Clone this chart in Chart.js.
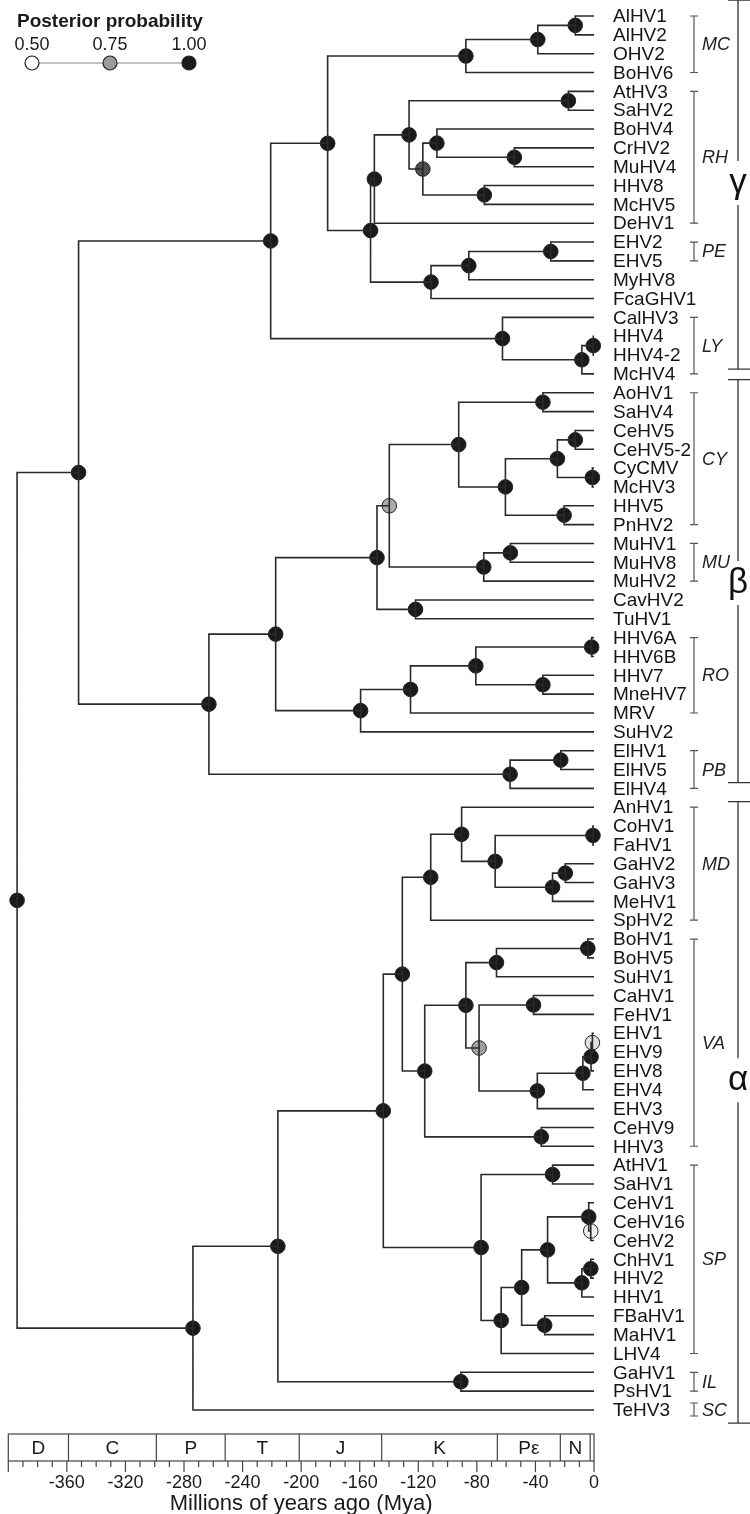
<!DOCTYPE html>
<html>
<head>
<meta charset="utf-8">
<script src="https://cdn.jsdelivr.net/npm/chart.js@4.4.0/dist/chart.umd.min.js"></script>
<style>
  body { margin: 0; background: #fff; }
  #wrap { width: 750px; height: 1514px; position: relative; }
</style>
</head>
<body>
<div id="wrap"><canvas id="tree"></canvas></div>
<script>
// tips, top to bottom
const leafNames = ['AlHV1','AlHV2','OHV2','BoHV6','AtHV3','SaHV2','BoHV4','CrHV2','MuHV4','HHV8','McHV5','DeHV1',
  'EHV2','EHV5','MyHV8','FcaGHV1','CalHV3','HHV4','HHV4-2','McHV4','AoHV1','SaHV4','CeHV5','CeHV5-2','CyCMV',
  'McHV3','HHV5','PnHV2','MuHV1','MuHV8','MuHV2','CavHV2','TuHV1','HHV6A','HHV6B','HHV7','MneHV7','MRV','SuHV2',
  'ElHV1','ElHV5','ElHV4','AnHV1','CoHV1','FaHV1','GaHV2','GaHV3','MeHV1','SpHV2','BoHV1','BoHV5','SuHV1',
  'CaHV1','FeHV1','EHV1','EHV9','EHV8','EHV4','EHV3','CeHV9','HHV3','AtHV1','SaHV1','CeHV1','CeHV16','CeHV2',
  'ChHV1','HHV2','HHV1','FBaHV1','MaHV1','LHV4','GaHV1','PsHV1','TeHV3'];

// internal nodes: id, child 1, child 2, age (Mya), posterior probability
const nodes = [
  ['m1','AlHV1','AlHV2',-12.8,1], ['m2','m1','OHV2',-38.4,1], ['m3','m2','BoHV6',-87.5,1],
  ['r1','AtHV3','SaHV2',-17.5,1], ['r2','CrHV2','MuHV4',-54.4,1], ['r3','BoHV4','r2',-107.3,1],
  ['r4','HHV8','McHV5',-74.9,1], ['r5','r3','r4',-116.9,0.9], ['r6','r1','r5',-126.3,1], ['r7','r6','DeHV1',-150,1],
  ['p1','EHV2','EHV5',-29.5,1], ['p2','p1','MyHV8',-85.5,1], ['p3','p2','FcaGHV1',-111.3,1],
  ['g1','r7','p3',-152.6,1], ['g2','m3','g1',-181.9,1],
  ['l1','HHV4','HHV4-2',-0.5,1], ['l2','l1','McHV4',-8.3,1], ['l3','CalHV3','l2',-62.5,1],
  ['gam','g2','l3',-220.8,1],
  ['c1','AoHV1','SaHV4',-34.9,1], ['c2','CeHV5','CeHV5-2',-12.8,1], ['c3','CyCMV','McHV3',-1.1,1],
  ['c4','c2','c3',-25,1], ['c5','HHV5','PnHV2',-20.4,1], ['c6','c4','c5',-60.5,1], ['c7','c1','c6',-92.4,1],
  ['u1','MuHV1','MuHV8',-57.1,1], ['u2','u1','MuHV2',-75.3,1],
  ['b1','c7','u2',-139.8,0.71], ['b2','CavHV2','TuHV1',-121.9,1], ['b3','b1','b2',-148.2,1],
  ['o1','HHV6A','HHV6B',-1.6,1], ['o2','HHV7','MneHV7',-34.9,1], ['o3','o1','o2',-80.7,1],
  ['o4','o3','MRV',-125.3,1], ['o5','o4','SuHV2',-159.4,1], ['b4','b3','o5',-217.4,1],
  ['e1','ElHV1','ElHV5',-22.7,1], ['e2','e1','ElHV4',-57.3,1], ['bet','b4','e2',-263,1],
  ['gb','gam','bet',-352,1],
  ['d1','CoHV1','FaHV1',-0.7,1], ['d2','GaHV2','GaHV3',-19.6,1], ['d3','d2','MeHV1',-28.3,1],
  ['d4','d1','d3',-67.5,1], ['d5','AnHV1','d4',-90.4,1], ['d6','d5','SpHV2',-111.5,1],
  ['v1','BoHV1','BoHV5',-4.2,1], ['v2','v1','SuHV1',-66.6,1], ['v3','CaHV1','FeHV1',-41.3,1],
  ['v4','EHV1','EHV9',-1.1,0.58], ['v5','v4','EHV8',-2.0,1], ['v6','v5','EHV4',-7.6,1],
  ['v7','v6','EHV3',-38.7,1], ['v8','v3','v7',-78.5,0.74], ['v9','v2','v8',-87.5,1],
  ['v10','CeHV9','HHV3',-36,1], ['v11','v9','v10',-115.6,1], ['a1','d6','v11',-130.9,1],
  ['s1','AtHV1','SaHV1',-28.3,1], ['s2','CeHV16','CeHV2',-2.2,0.54], ['s3','CeHV1','s2',-3.6,1],
  ['s4','ChHV1','HHV2',-2.2,1], ['s5','s4','HHV1',-8.3,1], ['s6','s3','s5',-31.7,1],
  ['s7','FBaHV1','MaHV1',-33.7,1], ['s8','s6','s7',-49.4,1], ['s9','s8','LHV4',-63.4,1],
  ['s10','s1','s9',-77.1,1], ['a2','a1','s10',-143.9,1],
  ['i1','GaHV1','PsHV1',-90.9,1], ['a3','a2','i1',-215.9,1], ['alp','a3','TeHV3',-273.9,1],
  ['root','gb','alp',-394,1]
];

// clade brackets: label, first tip, last tip
const clades = [['MC','AlHV1','BoHV6'],['RH','AtHV3','DeHV1'],['PE','EHV2','EHV5'],['LY','CalHV3','McHV4'],
  ['CY','AoHV1','PnHV2'],['MU','MuHV1','MuHV2'],['RO','HHV6A','MRV'],['PB','ElHV1','ElHV4'],
  ['MD','AnHV1','SpHV2'],['VA','BoHV1','HHV3'],['SP','AtHV1','LHV4'],['IL','GaHV1','PsHV1'],['SC','TeHV3','TeHV3']];

// subfamilies: letter, top, bottom, letter position (in tip rows)
const subfamilies = [['γ',-0.85,18.75,8.86],['β',19.3,40.7,30.1],['α',41.7,74.7,56.5]];

// geological periods (Mya)
const periodNames = ['D','C','P','T','J','K','Pε','N',''];
const periodBounds = [-400,-358.9,-298.9,-251.9,-201.3,-145,-66,-23,-2.6,0];
const tickLabels = [-360,-320,-280,-240,-200,-160,-120,-80,-40,0];

const legendProbs = [0.5, 0.75, 1.0];

function shade(p) {
  let v;
  if (p <= 0.75) v = 255 - (p - 0.5) / 0.25 * 100;
  else v = 155 - (p - 0.75) / 0.25 * 129;
  v = Math.round(v);
  return 'rgb(' + v + ',' + v + ',' + v + ')';
}

const pos = {};
leafNames.forEach((n, i) => pos[n] = { x: 0, y: i });
nodes.forEach(n => pos[n[0]] = { x: n[3], y: (pos[n[1]].y + pos[n[2]].y) / 2 });

const branchData = [];
nodes.forEach(n => {
  [n[1], n[2]].forEach(c => {
    branchData.push({ x: n[3], y: pos[n[0]].y }, { x: n[3], y: pos[c].y },
                    { x: pos[c].x, y: pos[c].y }, { x: null, y: null });
  });
});
const nodeData = nodes.map(n => ({ x: n[3], y: pos[n[0]].y }));
const nodeColors = nodes.map(n => shade(n[4]));

const FONT = '"Liberation Sans", Arial, sans-serif';

const decor = {
  id: 'decor',
  afterDraw(chart) {
    const ctx = chart.ctx, xs = chart.scales.x, ys = chart.scales.y;
    const x0 = xs.getPixelForValue(0);
    ctx.save();

    // tip labels
    ctx.fillStyle = '#151515';
    ctx.font = '19px ' + FONT;
    ctx.textAlign = 'left';
    ctx.textBaseline = 'middle';
    leafNames.forEach((n, i) => ctx.fillText(n, x0 + 19, ys.getPixelForValue(i) + 1));

    // clade brackets
    const bx = x0 + 100;
    ctx.strokeStyle = '#555';
    ctx.lineWidth = 1.2;
    clades.forEach(c => {
      let t = ys.getPixelForValue(leafNames.indexOf(c[1]));
      let b = ys.getPixelForValue(leafNames.indexOf(c[2]));
      if (t === b) { t -= 7; b += 6; }
      ctx.beginPath();
      ctx.moveTo(bx - 4, t); ctx.lineTo(bx + 4, t);
      ctx.moveTo(bx, t); ctx.lineTo(bx, b);
      ctx.moveTo(bx - 4, b); ctx.lineTo(bx + 4, b);
      ctx.stroke();
      ctx.font = 'italic 18px ' + FONT;
      ctx.fillStyle = '#222';
      ctx.fillText(c[0], bx + 8, (t + b) / 2 + 1);
    });

    // subfamily brackets
    const gx = x0 + 144;
    ctx.strokeStyle = '#333';
    ctx.lineWidth = 1.3;
    subfamilies.forEach(s => {
      const t = ys.getPixelForValue(s[1]), b = ys.getPixelForValue(s[2]), m = ys.getPixelForValue(s[3]);
      ctx.beginPath();
      ctx.moveTo(gx - 10, t); ctx.lineTo(gx + 12, t);
      ctx.moveTo(gx, t); ctx.lineTo(gx, m - 22);
      ctx.moveTo(gx, m + 22); ctx.lineTo(gx, b);
      ctx.moveTo(gx - 10, b); ctx.lineTo(gx + 12, b);
      ctx.stroke();
      ctx.font = '35px ' + FONT;
      ctx.fillStyle = '#111';
      ctx.textAlign = 'center';
      ctx.fillText(s[0], gx, m);
      ctx.textAlign = 'left';
    });

    // geological time scale
    const top = ys.getPixelForValue(74) + 24, bot = top + 27;
    const xl = xs.getPixelForValue(-400);
    ctx.strokeStyle = '#444';
    ctx.lineWidth = 1.2;
    ctx.strokeRect(xl, top, x0 - xl, bot - top);
    ctx.beginPath();
    periodBounds.slice(1, -1).forEach(v => {
      const px = xs.getPixelForValue(v);
      ctx.moveTo(px, top); ctx.lineTo(px, bot);
    });
    for (let v = -400; v <= 0; v += 10) {
      const px = xs.getPixelForValue(v);
      ctx.moveTo(px, bot); ctx.lineTo(px, bot + (v % 40 === 0 ? 11 : 6));
    }
    ctx.stroke();
    ctx.fillStyle = '#1a1a1a';
    ctx.textAlign = 'center';
    ctx.font = '19px ' + FONT;
    periodNames.forEach((p, i) => {
      const px = (xs.getPixelForValue(periodBounds[i]) + xs.getPixelForValue(periodBounds[i + 1])) / 2;
      ctx.fillText(p, px, (top + bot) / 2 + 1);
    });
    ctx.font = '18px ' + FONT;
    tickLabels.forEach(v => ctx.fillText(String(v), xs.getPixelForValue(v), bot + 22));
    ctx.font = '22px ' + FONT;
    ctx.fillText('Millions of years ago (Mya)', xs.getPixelForValue(-200), bot + 43);

    // legend
    ctx.textAlign = 'left';
    ctx.font = 'bold 19px ' + FONT;
    ctx.fillText('Posterior probability', 17, 22);
    const lx = [32, 110, 189], ly = 63;
    ctx.strokeStyle = '#888';
    ctx.lineWidth = 1.2;
    ctx.beginPath(); ctx.moveTo(lx[0], ly); ctx.lineTo(lx[2], ly); ctx.stroke();
    ctx.font = '18px ' + FONT;
    ctx.textAlign = 'center';
    legendProbs.forEach((p, i) => {
      ctx.fillStyle = '#1a1a1a';
      ctx.fillText(p.toFixed(2), lx[i], 45);
      ctx.beginPath();
      ctx.arc(lx[i], ly, 7, 0, Math.PI * 2);
      ctx.fillStyle = shade(p);
      ctx.fill();
      ctx.strokeStyle = '#222';
      ctx.stroke();
    });
    ctx.restore();
  }
};

new Chart(document.getElementById('tree'), {
  type: 'scatter',
  data: {
    datasets: [{
      type: 'line',
      data: branchData,
      borderColor: '#2a2a2a',
      borderWidth: 1.6,
      pointRadius: 0,
      spanGaps: false,
      fill: false,
      tension: 0,
      clip: false,
      borderJoinStyle: 'miter'
    }, {
      data: nodeData,
      pointRadius: 7.3,
      pointHoverRadius: 7.3,
      pointBackgroundColor: nodeColors,
      pointBorderColor: '#222',
      pointBorderWidth: 1,
      clip: false
    }]
  },
  options: {
    responsive: true,
    maintainAspectRatio: false,
    animation: false,
    events: [],
    layout: { padding: { left: 1, right: 156, top: 16, bottom: 104 } },
    plugins: { legend: { display: false }, tooltip: { enabled: false } },
    scales: {
      x: { type: 'linear', min: -400, max: 0, display: false },
      y: { type: 'linear', min: 0, max: 74, reverse: true, display: false }
    }
  },
  plugins: [decor]
});
</script>
</body>
</html>
